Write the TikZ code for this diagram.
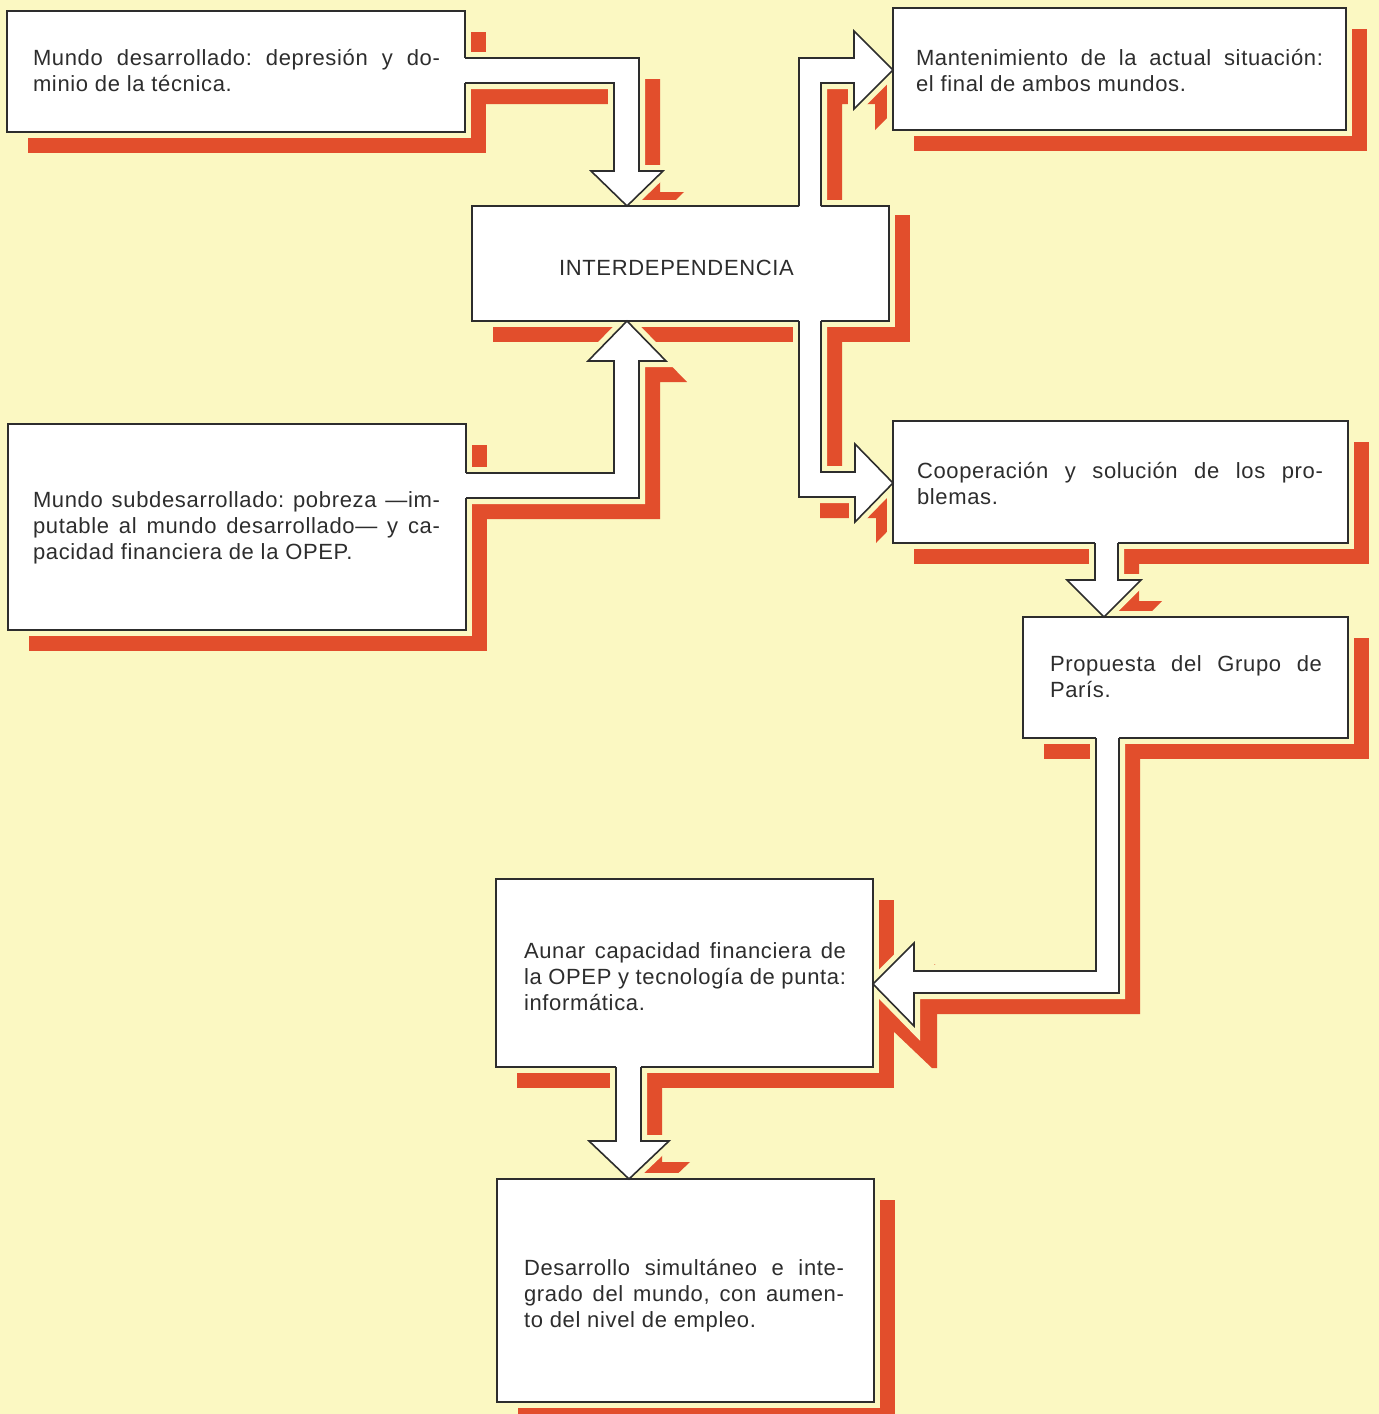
\documentclass[tikz,border=0pt]{standalone}
\usepackage{fontspec}
\setmainfont{Liberation Sans}[LetterSpace=3]
\usetikzlibrary{calc}
\definecolor{bgyellow}{RGB}{251,248,194}
\definecolor{shadred}{RGB}{226,78,44}
\definecolor{ink}{RGB}{45,45,45}
\pgfdeclarelayer{bgl}
\pgfdeclarelayer{shad}
\pgfdeclarelayer{halo}
\pgfdeclarelayer{front}
\pgfsetlayers{bgl,shad,halo,main,front}
\newcommand\jl[2]{\makebox[#1][s]{#2}}
% block arrows (outline paths, open at the box they leave)
\newcommand\arrAone{(b1.east |- 0,58) -- (639,58) -- (639,171) -- (663,171) -- (627,0 |- inter.north) -- (591,171) -- (614,171) -- (614,83) -- (b1.east |- 0,83)}
\newcommand\arrAtwo{(b3.east |- 0,498) -- (639,498) -- (639,361) -- (666,361) -- (627,0 |- inter.south) -- (588,361) -- (614,361) -- (614,473) -- (b3.east |- 0,473)}
\newcommand\arrAthree{(799,0 |- inter.north) -- (799,58) -- (854,58) -- (854,31) -- (b2.west |- 0,70) -- (854,109) -- (854,83) -- (821,83) -- (821,0 |- inter.north)}
\newcommand\arrAfour{(799,0 |- inter.south) -- (799,497) -- (855,497) -- (855,522) -- (b4.west |- 0,483) -- (855,444) -- (855,472) -- (821,472) -- (821,0 |- inter.south)}
\newcommand\arrAfive{(1095,0 |- b4.south) -- (1095,580) -- (1067,580) -- (1104,0 |- b5.north) -- (1141,580) -- (1118,580) -- (1118,0 |- b4.south)}
\newcommand\arrAsix{(1119,0 |- b5.south) -- (1119,993) -- (914,993) -- (914,1026) -- (b6.east |- 0,984) -- (914,943) -- (914,971) -- (1096,971) -- (1096,0 |- b5.south)}
\newcommand\arrAseven{(616,0 |- b6.south) -- (616,1141) -- (589,1141) -- (629,0 |- b7.north) -- (669,1141) -- (641,1141) -- (641,0 |- b6.south)}
\begin{document}
\begin{tikzpicture}[x=1pt,y=-1pt,
  box/.style={draw=ink,line width=1.6pt,fill=white,inner sep=0pt,outer sep=0pt,anchor=north west},
  txt/.style={anchor=base west,inner sep=0pt,outer sep=0pt,text=ink,font=\fontsize{22pt}{26pt}\selectfont\frenchspacing},
  shadowfill/.style={fill=shadred},
  halofill/.style={draw=bgyellow,fill=bgyellow,line width=12pt},
  arrowfill/.style={fill=white},
  arrowline/.style={draw=ink,line width=1.6pt,line join=miter},
  gapline/.style={draw=white,line width=3.4pt}]
\useasboundingbox (0,0) rectangle (1379,1414);
\begin{pgfonlayer}{bgl}
\fill[bgyellow] (0,0) rectangle (1379,1414);
\end{pgfonlayer}

% boxes
\node[box,minimum width=458pt,minimum height=121pt] (b1) at (7,11) {};
\node[box,minimum width=453pt,minimum height=122pt] (b2) at (893,8) {};
\node[box,minimum width=417pt,minimum height=115pt] (inter) at (472,206) {};
\node[box,minimum width=458pt,minimum height=206pt] (b3) at (8,424) {};
\node[box,minimum width=455pt,minimum height=122pt] (b4) at (893,421) {};
\node[box,minimum width=325pt,minimum height=121pt] (b5) at (1023,617) {};
\node[box,minimum width=377pt,minimum height=188pt] (b6) at (496,879) {};
\node[box,minimum width=377pt,minimum height=223pt] (b7) at (497,1179) {};

% texts
\node[txt] (t1) at (33,65) {\parbox[t]{407pt}{\jl{407pt}{Mundo desarrollado: depresión y do-}\\minio de la técnica.}};
\node[txt] (t2) at (916,65) {\parbox[t]{407pt}{\jl{407pt}{Mantenimiento de la actual situación:}\\el final de ambos mundos.}};
\node[txt,anchor=base] (ti) at (676.5,275) {INTERDEPENDENCIA};
\node[txt] (t3) at (33,507) {\parbox[t]{407pt}{\jl{407pt}{Mundo subdesarrollado: pobreza —im-}\\\jl{407pt}{putable al mundo desarrollado— y ca-}\\pacidad financiera de la OPEP.}};
\node[txt] (t4) at (917,478) {\parbox[t]{406pt}{\jl{406pt}{Cooperación y solución de los pro-}\\blemas.}};
\node[txt] (t5) at (1050,671) {\parbox[t]{272pt}{\jl{272pt}{Propuesta del Grupo de}\\París.}};
\node[txt] (t6) at (524,958) {\parbox[t]{322pt}{\jl{322pt}{Aunar capacidad financiera de}\\\jl{322pt}{la OPEP y tecnología de punta:}\\informática.}};
\node[txt] (t7) at (524,1275) {\parbox[t]{320pt}{\jl{320pt}{Desarrollo simultáneo e inte-}\\\jl{320pt}{grado del mundo, con aumen-}\\to del nivel de empleo.}};

% red offset shadows
\begin{pgfonlayer}{shad}
\begin{scope}[transform canvas={shift={(21pt,-21pt)}}]
\foreach \n in {b1,b2,b3,b4,b5,b6,b7}
  \fill[shadowfill] (\n.north west) rectangle (\n.south east);
\fill[shadowfill] ($(inter.north west)+(0,-12)$) rectangle (inter.south east);
\fill[shadowfill] \arrAone -- cycle;
\fill[shadowfill] \arrAtwo -- cycle;
\fill[shadowfill] \arrAthree -- cycle;
\fill[shadowfill] \arrAfour -- cycle;
\fill[shadowfill] \arrAfive -- cycle;
\fill[shadowfill] \arrAsix -- cycle;
\fill[shadowfill] \arrAseven -- cycle;
\end{scope}
% longer wedge below the arrowhead that meets the "Aunar" box
\fill[shadowfill] (890,995) -- (937,995) -- (937,1068) -- (932,1068) -- (890,1028) -- cycle;
\end{pgfonlayer}

% pale gap round every shape
\begin{pgfonlayer}{halo}
\foreach \n in {b1,b2,b3,b4,b5,b6,b7,inter}
  \path[halofill] (\n.north west) rectangle (\n.south east);
\path[halofill] \arrAone -- cycle;
\path[halofill] \arrAtwo -- cycle;
\path[halofill] \arrAthree -- cycle;
\path[halofill] \arrAfour -- cycle;
\path[halofill] \arrAfive -- cycle;
\path[halofill] \arrAsix -- cycle;
\path[halofill] \arrAseven -- cycle;
\end{pgfonlayer}

% white block arrows
\begin{pgfonlayer}{front}
\fill[arrowfill] \arrAone -- cycle;
\draw[gapline] (b1.east |- 0,58) -- (b1.east |- 0,83);
\draw[arrowline] \arrAone;
\fill[arrowfill] \arrAtwo -- cycle;
\draw[gapline] (b3.east |- 0,498) -- (b3.east |- 0,473);
\draw[arrowline] \arrAtwo;
\fill[arrowfill] \arrAthree -- cycle;
\draw[gapline] (799,0 |- inter.north) -- (821,0 |- inter.north);
\draw[arrowline] \arrAthree;
\fill[arrowfill] \arrAfour -- cycle;
\draw[gapline] (799,0 |- inter.south) -- (821,0 |- inter.south);
\draw[arrowline] \arrAfour;
\fill[arrowfill] \arrAfive -- cycle;
\draw[gapline] (1095,0 |- b4.south) -- (1118,0 |- b4.south);
\draw[arrowline] \arrAfive;
\fill[arrowfill] \arrAsix -- cycle;
\draw[gapline] (1096,0 |- b5.south) -- (1119,0 |- b5.south);
\draw[arrowline] \arrAsix;
\fill[arrowfill] \arrAseven -- cycle;
\draw[gapline] (616,0 |- b6.south) -- (641,0 |- b6.south);
\draw[arrowline] \arrAseven;
\end{pgfonlayer}
\end{tikzpicture}
\end{document}
